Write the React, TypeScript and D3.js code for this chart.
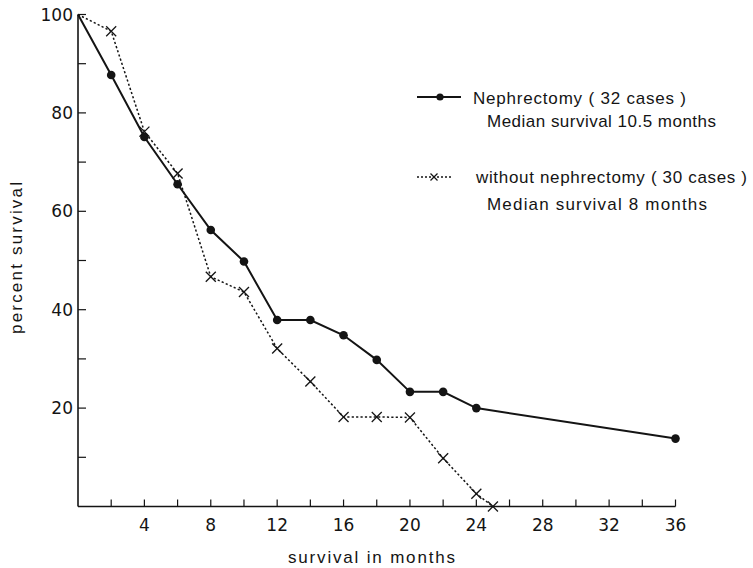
import React from "react";
import * as d3 from "d3";

const nephMonths = [0, 2, 4, 6, 8, 10, 12, 14, 16, 18, 20, 22, 24, 36];
const nephValues = [100, 87.7, 75.1, 65.5, 56.2, 49.8, 37.9, 37.9, 34.8, 29.8, 23.3, 23.3, 20.0, 13.8];
const withoutMonths = [0, 2, 4, 6, 8, 10, 12, 14, 16, 18, 20, 22, 24, 25];
const withoutValues = [100, 96.6, 76.2, 67.7, 46.7, 43.6, 32.1, 25.4, 18.2, 18.2, 18.1, 9.8, 2.6, 0];
const xTickLabels = [4, 8, 12, 16, 20, 24, 28, 32, 36];
const xMinorTicks = [2, 4, 6, 8, 10, 12, 14, 16, 18, 20, 22, 24, 26, 28, 30, 32, 34, 36];
const yTickLabels = [20, 40, 60, 80, 100];
const yMinorTicks = [10, 20, 30, 40, 50, 60, 70, 80, 90, 100];

const W = 753;
const H = 568;
const FONT = "'Liberation Sans', Arial, sans-serif";
const NUMFONT = "'DejaVu Sans', 'Liberation Sans', sans-serif";
const INK = "#141414";

export default function App() {
  const x = d3.scaleLinear().domain([0, 36]).range([78, 675.5]);
  const y = d3.scaleLinear().domain([0, 100]).range([506.5, 14.5]);

  const neph = nephMonths.map((m, i) => [m, nephValues[i]] as [number, number]);
  const without = withoutMonths.map((m, i) => [m, withoutValues[i]] as [number, number]);
  const line = d3
    .line<[number, number]>()
    .x((d) => x(d[0]))
    .y((d) => y(d[1]));

  const xMark = (cx: number, cy: number, r: number, key: string) => (
    <g key={key} stroke={INK} strokeWidth={1.3}>
      <line x1={cx - r} y1={cy - r} x2={cx + r} y2={cy + r} />
      <line x1={cx - r} y1={cy + r} x2={cx + r} y2={cy - r} />
    </g>
  );

  return (
    <svg
      width={W}
      height={H}
      style={{ position: "absolute", left: 0, top: 0, background: "#fff" }}
      fontFamily={FONT}
    >
      <rect x={0} y={0} width={W} height={H} fill="#fff" />
      {/* axes */}
      <line x1={x(0)} y1={y(0)} x2={x(36)} y2={y(0)} stroke={INK} strokeWidth={1.6} />
      <line x1={x(0)} y1={y(0)} x2={x(0)} y2={y(100)} stroke={INK} strokeWidth={1.6} />
      {xMinorTicks.map((t) => (
        <line key={"xt" + t} x1={x(t)} x2={x(t)} y1={y(0)} y2={y(0) - 7} stroke={INK} strokeWidth={1.2} />
      ))}
      {yMinorTicks.map((t) => (
        <line key={"yt" + t} x1={x(0)} x2={x(0) + 8} y1={y(t)} y2={y(t)} stroke={INK} strokeWidth={1.2} />
      ))}
      {xTickLabels.map((t) => (
        <text key={"xl" + t} x={x(t)} y={531} textAnchor="middle" fontSize={17} fill={INK} fontFamily={NUMFONT}>
          {t}
        </text>
      ))}
      {yTickLabels.map((t) => (
        <text key={"yl" + t} x={73} y={y(t) + 6} textAnchor="end" fontSize={17} fill={INK} fontFamily={NUMFONT}>
          {t}
        </text>
      ))}
      <text x={288} y={563} fontSize={17} fill={INK} textLength={167} lengthAdjust="spacing">
        survival in months
      </text>
      <text
        transform="translate(22,258) rotate(-90)"
        textAnchor="middle"
        fontSize={17}
        fill={INK}
        textLength={152}
        lengthAdjust="spacing"
      >
        percent survival
      </text>

      {/* series */}
      <path d={line(without) || ""} fill="none" stroke={INK} strokeWidth={1.5} strokeDasharray="2.2,2.2" />
      <path d={line(neph) || ""} fill="none" stroke={INK} strokeWidth={2} />
      {neph.slice(1).map((d, i) => (
        <circle key={"c" + i} cx={x(d[0])} cy={y(d[1])} r={4.3} fill={INK} />
      ))}
      {without.slice(1).map((d, i) => xMark(x(d[0]), y(d[1]), 5, "x" + i))}

      {/* legend */}
      <line x1={417} x2={461} y1={97} y2={97} stroke={INK} strokeWidth={2} />
      <circle cx={440} cy={97} r={3.6} fill={INK} />
      <text x={473} y={104} fontSize={17} fill={INK} textLength={213} lengthAdjust="spacing">
        Nephrectomy ( 32 cases )
      </text>
      <text x={487} y={127} fontSize={17} fill={INK} textLength={229} lengthAdjust="spacing">
        Median survival 10.5 months
      </text>
      <line x1={417} x2={453} y1={177} y2={177} stroke={INK} strokeWidth={1.5} strokeDasharray="2,2" />
      {xMark(434, 177, 3.5, "legx")}
      <text x={476} y={183} fontSize={17} fill={INK} textLength={271} lengthAdjust="spacing">
        without nephrectomy ( 30 cases )
      </text>
      <text x={487} y={210} fontSize={17} fill={INK} textLength={220} lengthAdjust="spacing">
        Median survival 8 months
      </text>
    </svg>
  );
}
